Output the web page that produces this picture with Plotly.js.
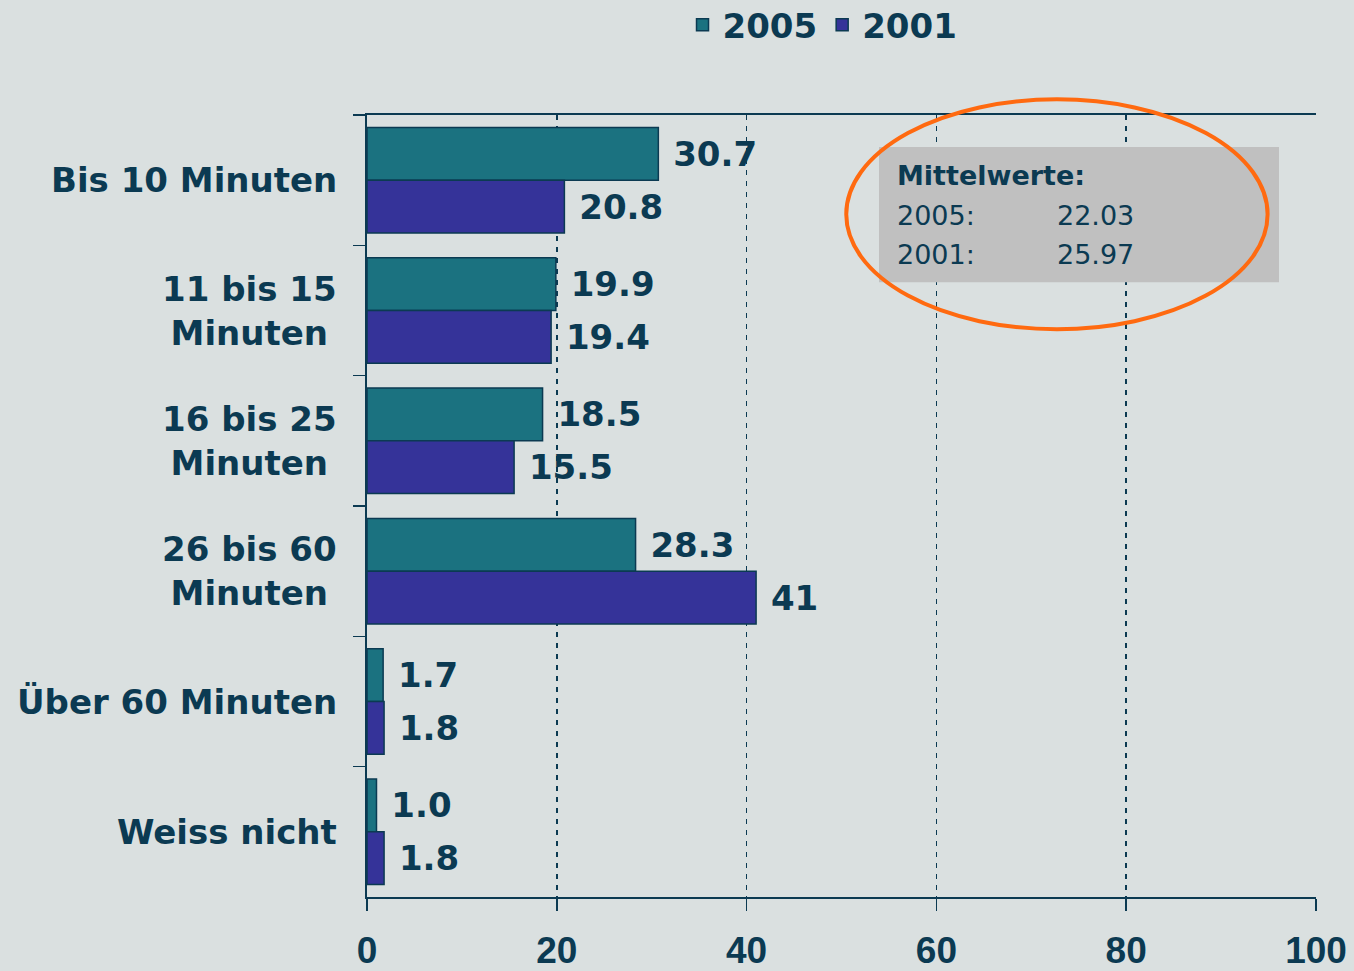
<!DOCTYPE html>
<html><head><meta charset="utf-8">
<script src="https://cdn.plot.ly/plotly-3.0.1.min.js"></script>
<style>html,body{margin:0;padding:0;background:#dae0e0;}</style>
</head><body>
<div id="chart" style="width:1354px;height:971px;"></div>
<script>
const categories = ["Bis 10 Minuten", "11 bis 15<br>Minuten", "16 bis 25<br>Minuten", "26 bis 60<br>Minuten", "Über 60 Minuten", "Weiss nicht"];
const values2005 = [30.7, 19.9, 18.5, 28.3, 1.7, 1.0];
const values2001 = [20.8, 19.4, 15.5, 41, 1.8, 1.8];
const labels2005 = ["30.7", "19.9", "18.5", "28.3", "1.7", "1.0"];
const labels2001 = ["20.8", "19.4", "15.5", "41", "1.8", "1.8"];
const xTicks = [0, 20, 40, 60, 80, 100];
const meanTitle = "Mittelwerte:";
const meanYears = ["2005:", "2001:"];
const meanValues = ["22.03", "25.97"];

const ink = "#0b3a52";
const labelFont = {family: "DejaVu Sans", size: 34, color: ink, weight: "bold"};
const pad = s => "\u00a0" + s;

const traces = [
  {type: "bar", orientation: "h", name: "2005", y: categories, x: values2005,
   text: labels2005.map(pad), textposition: "outside", cliponaxis: false, textfont: labelFont,
   marker: {color: "#1b7280", line: {color: ink, width: 1.5}}},
  {type: "bar", orientation: "h", name: "2001", y: categories, x: values2001,
   text: labels2001.map(pad), textposition: "outside", cliponaxis: false, textfont: labelFont,
   marker: {color: "#353399", line: {color: ink, width: 1.5}}}
];

const annotations = categories.map(c => ({
  xref: "paper", yref: "y", x: 0, y: c, xanchor: "right", yanchor: "middle",
  xshift: -28, text: "<b>" + c + "</b>", showarrow: false, align: "center",
  font: {family: "DejaVu Sans", size: 34, color: ink}
}));
annotations.push({xref: "x", yref: "paper", x: 55.6, y: 0.923, xanchor: "left", yanchor: "middle",
  text: "<b>" + meanTitle + "</b>", showarrow: false, font: {family: "DejaVu Sans", size: 27, color: ink}});
meanYears.forEach((yr, i) => {
  annotations.push({xref: "x", yref: "paper", x: 55.6, y: 0.871 - i * 0.049, xanchor: "left", yanchor: "middle",
    text: yr, showarrow: false, font: {family: "DejaVu Sans", size: 27, color: ink}});
  annotations.push({xref: "x", yref: "paper", x: 72.5, y: 0.871 - i * 0.049, xanchor: "left", yanchor: "middle",
    text: meanValues[i], showarrow: false, font: {family: "DejaVu Sans", size: 27, color: ink}});
});

const layout = {
  width: 1354, height: 971,
  paper_bgcolor: "#dae0e0", plot_bgcolor: "#dae0e0",
  margin: {l: 367, r: 38, t: 115, b: 74, autoexpand: false},
  barmode: "group", bargap: 0.19, bargroupgap: 0,
  showlegend: true,
  legend: {orientation: "h", x: 0.48, xanchor: "center", y: 1.115, yanchor: "middle",
    font: {family: "DejaVu Sans", size: 34, color: ink, weight: "bold"}, bgcolor: "rgba(0,0,0,0)", itemwidth: 30},
  xaxis: {range: [0, 100], tickvals: xTicks, ticktext: xTicks.map(String),
    showgrid: true, gridcolor: ink, griddash: "5px,6px", gridwidth: 1.5,
    zeroline: false, showline: true, linecolor: ink, linewidth: 2, mirror: true,
    ticks: "outside", ticklen: 12, tickcolor: ink, tickwidth: 1.5, ticklabelstandoff: 8,
    automargin: false,
    tickfont: {family: "Liberation Sans", size: 37, color: ink, weight: "bold"}},
  yaxis: {autorange: "reversed", showticklabels: false, showline: true, linecolor: ink, linewidth: 2,
    ticks: "outside", ticklen: 12, tickcolor: ink, tickwidth: 1.5, tickson: "boundaries",
    showgrid: false, zeroline: false, automargin: false},
  shapes: [
    {type: "rect", xref: "x", yref: "paper", x0: 53.95, x1: 96.1, y0: 0.786, y1: 0.959,
     fillcolor: "#c0c0c0", line: {width: 0}, layer: "above"},
    {type: "circle", xref: "x", yref: "paper", x0: 50.5, x1: 94.9, y0: 0.726, y1: 1.02,
     line: {color: "#ff6a10", width: 4}, layer: "above"}
  ],
  annotations: annotations
};

Plotly.newPlot("chart", traces, layout, {displayModeBar: false, staticPlot: true});
</script>
</body></html>
